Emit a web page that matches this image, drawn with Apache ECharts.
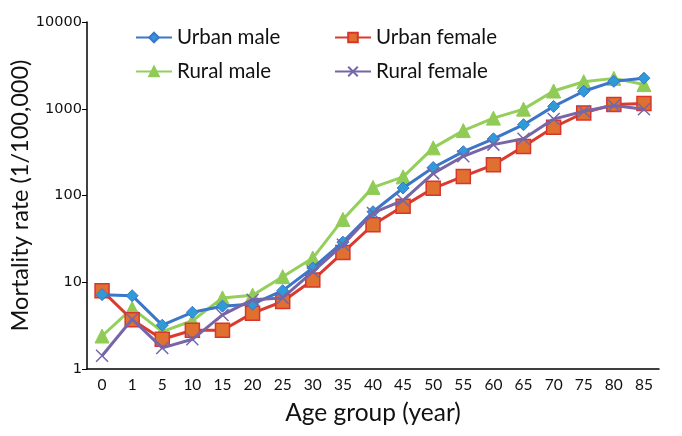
<!DOCTYPE html>
<html><head><meta charset="utf-8">
<script src="https://cdn.jsdelivr.net/npm/echarts@6/dist/echarts.min.js"></script>
<style>html,body{margin:0;padding:0;background:#fff}#c{width:682px;height:436px}</style>
</head><body><div id="c"></div>
<script>
const ageGroups = ['0','1','5','10','15','20','25','30','35','40','45','50','55','60','65','70','75','80','85'];
const urbanMale   = [7.2, 7.0, 3.2, 4.5, 5.3, 5.6, 8.0, 14.6, 29, 65, 122, 210, 320, 450, 655, 1065, 1590, 2070, 2250];
const urbanFemale = [8.0, 3.7, 2.2, 2.8, 2.8, 4.4, 6.0, 10.6, 22, 46, 75, 121, 166, 226, 368, 612, 896, 1118, 1148];
const ruralMale   = [2.4, 5.0, 2.7, 3.6, 6.6, 7.1, 11.6, 19, 53, 124, 164, 354, 560, 780, 990, 1600, 2050, 2240, 1900];
const ruralFemale = [1.42, 3.75, 1.75, 2.2, 4.2, 6.3, 6.6, 13.3, 27, 63, 88, 180, 283, 386, 450, 760, 936, 1090, 985];
const yTicks = [1, 10, 100, 1000, 10000];

const chart = echarts.init(document.getElementById('c'));
const lf = {fontFamily: 'Lato', fontSize: 20.5, color: '#111'};
function legend(name, left, top) {
  return {data: [name], left: left, top: top, itemWidth: 36, itemHeight: 12, textStyle: lf, itemGap: 0, padding: 0};
}
const xPath = 'path://M0,0L10,10M10,0L0,10';
chart.setOption({
  animation: false,
  backgroundColor: '#fff',
  legend: [
    legend('Urban male', 135, 27),
    legend('Urban female', 334, 27),
    legend('Rural male', 135, 61),
    legend('Rural female', 334, 61)
  ],
  grid: {left: 87, right: 23, top: 22, bottom: 67, containLabel: false, outerBoundsMode: 'none'},
  xAxis: {
    type: 'category', data: ageGroups, boundaryGap: true,
    name: 'Age group (year)', nameLocation: 'middle', nameGap: 32,
    nameTextStyle: {fontFamily: 'Lato', fontSize: 24.5, color: '#111'},
    axisLine: {lineStyle: {color: '#000', width: 1.5}},
    axisTick: {alignWithLabel: true, inside: true, length: 5, lineStyle: {color: '#000'}},
    axisLabel: {fontFamily: 'Lato', fontSize: 15.5, color: '#111', margin: 8, interval: 0},
    splitLine: {show: false}
  },
  yAxis: {
    type: 'log', logBase: 10, min: yTicks[0], max: yTicks[yTicks.length - 1],
    name: 'Mortality rate (1/100,000)', nameLocation: 'middle', nameGap: 55, nameMoveOverlap: false,
    nameTextStyle: {fontFamily: 'Lato', fontSize: 23.5, color: '#111'},
    axisLine: {show: true, lineStyle: {color: '#000', width: 1.5}},
    axisTick: {show: true, inside: false, length: 5, lineStyle: {color: '#000'}},
    axisLabel: {fontFamily: 'DejaVu Sans', fontSize: 14.5, color: '#111', margin: 5,
      formatter: function (v) { return String(Math.round(v)); }},
    splitLine: {show: false},
    minorTick: {show: false}
  },
  series: [
    {name: 'Urban male', type: 'line', data: urbanMale, symbol: 'diamond', symbolSize: 12,
     lineStyle: {color: '#3b76c9', width: 3}, itemStyle: {color: '#2f9ad8', borderColor: '#3b76c9', borderWidth: 1}, z: 4},
    {name: 'Urban female', type: 'line', data: urbanFemale, symbol: 'rect', symbolSize: 14,
     lineStyle: {color: '#db3a2f', width: 3}, itemStyle: {color: '#e0702f', borderColor: '#d9352c', borderWidth: 1.5}, z: 3},
    {name: 'Rural male', type: 'line', data: ruralMale, symbol: 'triangle', symbolSize: 14,
     lineStyle: {color: '#93cf5a', width: 3}, itemStyle: {color: '#8fcb55', borderColor: '#8fcb55', borderWidth: 1}, z: 2},
    {name: 'Rural female', type: 'line', data: ruralFemale, symbol: xPath, symbolSize: 12,
     lineStyle: {color: '#7666a8', width: 3}, itemStyle: {color: '#7666a8', borderColor: '#7666a8', borderWidth: 1.5}, z: 5}
  ]
});
</script></body></html>
